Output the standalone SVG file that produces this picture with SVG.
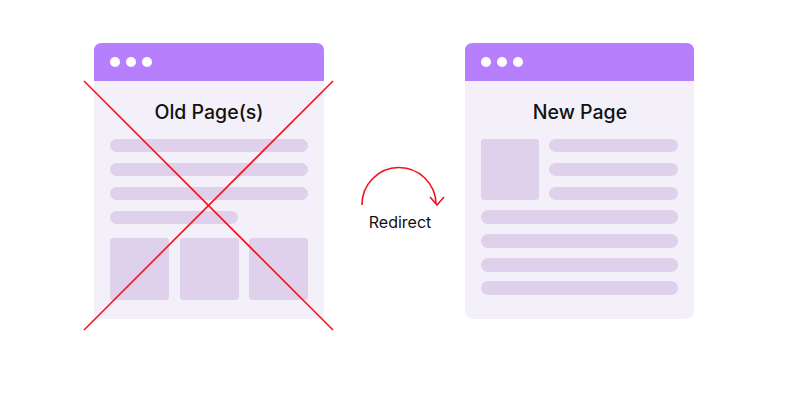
<svg xmlns="http://www.w3.org/2000/svg" width="800" height="418" viewBox="0 0 800 418">
<style>
.body{fill:#f4f0fa}
.head{fill:#b680fd}
.dot{fill:#ffffff}
.bar{fill:#dfd0ec}
.title{font-family:Inter,"Noto Sans",sans-serif;font-weight:500;font-size:19.5px;fill:#111111;text-anchor:middle}
.lbl{font-family:Inter,"Noto Sans",sans-serif;font-size:16px;fill:#111111;text-anchor:middle}
.red{stroke:#f0141e;stroke-width:1.6;fill:none}
</style>
<rect width="800" height="418" fill="#ffffff"/>
<g id="old-page">
<path class="body" d="M94,80 H324 V319 H94 Z"/>
<path class="head" d="M102,43 H316 Q324,43 324,51 V81 H94 V51 Q94,43 102,43 Z"/>
<circle class="dot" cx="115" cy="62" r="5"/>
<circle class="dot" cx="131" cy="62" r="5"/>
<circle class="dot" cx="147" cy="62" r="5"/>
<text class="title" x="209" y="119">Old Page(s)</text>
<rect class="bar" x="110" y="139" width="198" height="13" rx="6.5"/>
<rect class="bar" x="110" y="163" width="198" height="13" rx="6.5"/>
<rect class="bar" x="110" y="187" width="198" height="13" rx="6.5"/>
<rect class="bar" x="110" y="211" width="128" height="13" rx="6.5"/>
<rect class="bar" x="110" y="238" width="59" height="62" rx="3"/>
<rect class="bar" x="180" y="238" width="59" height="62" rx="3"/>
<rect class="bar" x="249" y="238" width="59" height="62" rx="3"/>
</g>
<g id="cross">
<line class="red" x1="84" y1="81" x2="333" y2="330"/>
<line class="red" x1="333" y1="81" x2="84" y2="330"/>
</g>
<g id="new-page">
<rect class="body" x="465" y="43" width="229" height="276" rx="8"/>
<path class="head" d="M473,43 H686 Q694,43 694,51 V81 H465 V51 Q465,43 473,43 Z"/>
<circle class="dot" cx="486" cy="62" r="5"/>
<circle class="dot" cx="502" cy="62" r="5"/>
<circle class="dot" cx="518" cy="62" r="5"/>
<text class="title" x="580" y="119">New Page</text>
<rect class="bar" x="481" y="139" width="58" height="61" rx="3"/>
<rect class="bar" x="549" y="139" width="129" height="13" rx="6.5"/>
<rect class="bar" x="549" y="163" width="129" height="13" rx="6.5"/>
<rect class="bar" x="549" y="187" width="129" height="13" rx="6.5"/>
<rect class="bar" x="481" y="210" width="197" height="14" rx="7"/>
<rect class="bar" x="481" y="234" width="197" height="14" rx="7"/>
<rect class="bar" x="481" y="258" width="197" height="14" rx="7"/>
<rect class="bar" x="481" y="281" width="197" height="14" rx="7"/>
</g>
<g id="connectors">
<path class="red" d="M362,205 A37,37 0 0 1 436,204"/>
<path class="red" d="M430,197 L437,205 L444,197"/>
</g>
<g id="redirect-label">
<text class="lbl" x="400" y="228">Redirect</text>
</g>
</svg>
